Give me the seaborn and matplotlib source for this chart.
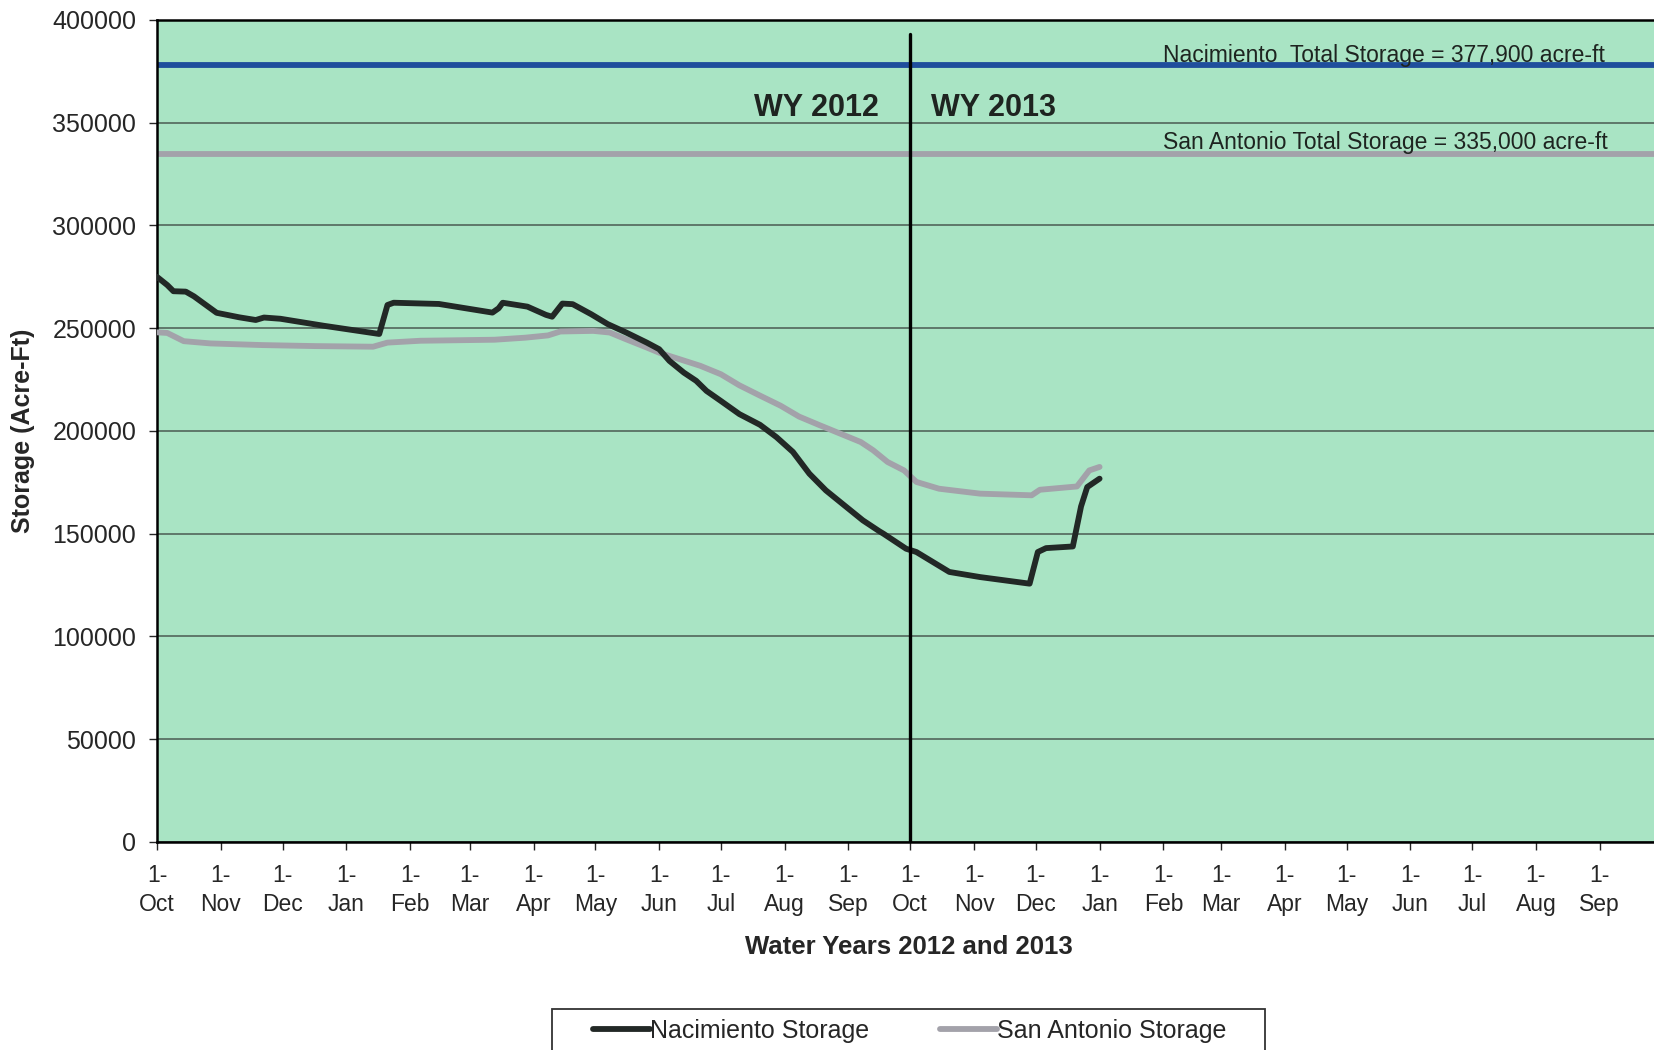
import pandas as pd
import seaborn as sns
import matplotlib.pyplot as plt
import matplotlib.dates as mdates
from matplotlib.patches import Rectangle

# Reservoir storage (acre-ft)
nac_dates = ["2011-10-01", "2011-10-06", "2011-10-09", "2011-10-15", "2011-10-19", "2011-10-30",
             "2011-11-10", "2011-11-18", "2011-11-22", "2011-11-30", "2011-12-21", "2012-01-17",
             "2012-01-21", "2012-01-24", "2012-02-15", "2012-03-12", "2012-03-15", "2012-03-17",
             "2012-03-29", "2012-04-07", "2012-04-10", "2012-04-15", "2012-04-20", "2012-04-29",
             "2012-05-07", "2012-05-16", "2012-05-26", "2012-06-01", "2012-06-06", "2012-06-13",
             "2012-06-19", "2012-06-24", "2012-07-01", "2012-07-10", "2012-07-20", "2012-07-28",
             "2012-08-05", "2012-08-13", "2012-08-21", "2012-08-29", "2012-09-08", "2012-09-16",
             "2012-09-18", "2012-09-29", "2012-10-04", "2012-10-20", "2012-11-04", "2012-11-28",
             "2012-12-02", "2012-12-06", "2012-12-19", "2012-12-23", "2012-12-26", "2013-01-01"]
nac_storage = [275000, 271000, 268000, 267800, 265500, 257500,
               255300, 254000, 255200, 254600, 251200, 247200,
               261300, 262400, 261800, 257600, 259700, 262400,
               260500, 256500, 255600, 262000, 261700, 256800,
               252000, 247900, 243000, 239800, 234100, 228400,
               224400, 219500, 214600, 208200, 203000, 197000,
               189800, 179200, 171100, 164600, 156500, 151200,
               150000, 142700, 141100, 131400, 128900, 125700,
               141100, 143000, 143800, 163300, 172700, 176800]

sa_dates = ["2011-10-01", "2011-10-06", "2011-10-14", "2011-10-27", "2011-11-21", "2011-12-17",
            "2012-01-14", "2012-01-21", "2012-02-06", "2012-03-13", "2012-03-28", "2012-04-08",
            "2012-04-14", "2012-04-30", "2012-05-08", "2012-05-16", "2012-05-26", "2012-06-01",
            "2012-06-11", "2012-06-21", "2012-07-01", "2012-07-10", "2012-07-20", "2012-07-30",
            "2012-08-08", "2012-08-18", "2012-08-28", "2012-09-07", "2012-09-13", "2012-09-20",
            "2012-09-28", "2012-10-04", "2012-10-15", "2012-11-04", "2012-11-29", "2012-12-03",
            "2012-12-21", "2012-12-27", "2013-01-01"]
sa_storage = [248000, 247700, 243700, 242600, 241800, 241300,
              241000, 243000, 243900, 244400, 245400, 246500,
              248400, 248700, 247900, 244600, 240600, 238100,
              234900, 231700, 227600, 222200, 217200, 212300,
              207000, 202800, 198700, 194600, 190600, 184900,
              180800, 175200, 171900, 169500, 168700, 171400,
              173000, 180800, 182500]

nac_total = 377900
sa_total = 335000

nac = pd.DataFrame({"date": pd.to_datetime(nac_dates), "storage": nac_storage})
sa = pd.DataFrame({"date": pd.to_datetime(sa_dates), "storage": sa_storage})

sns.set_style("white")
plt.rcParams["font.family"] = ["Liberation Sans", "DejaVu Sans"]

fig = plt.figure(figsize=(16.54, 10.5), dpi=100)
ax = fig.add_axes([0.0949, 0.1981, 0.9096, 0.7829])
ax.set_facecolor("#a9e4c4")

ax.axhline(nac_total, color="#1f4e9c", lw=4.2, zorder=2)
ax.axhline(sa_total, color="#a3a2aa", lw=4.2, zorder=2)

sns.lineplot(data=nac, x="date", y="storage", ax=ax, color="#222826", lw=4.2,
             label="Nacimiento Storage", zorder=4)
sns.lineplot(data=sa, x="date", y="storage", ax=ax, color="#a3a2aa", lw=4.2,
             label="San Antonio Storage", zorder=3)

ax.axvline(pd.Timestamp("2012-10-01"), ymin=0, ymax=0.983, color="black", lw=2.4, zorder=5)

ax.set_xlim(pd.Timestamp("2011-10-01"), pd.Timestamp("2013-10-01"))
ax.set_ylim(0, 400000)
ax.set_yticks(range(0, 400001, 50000))
ax.yaxis.grid(True, color="#4a5a52", lw=1.1)
ax.set_axisbelow(True)

ax.set_xticks(pd.date_range("2011-10-01", "2013-09-01", freq="MS"))
ax.xaxis.set_major_formatter(mdates.DateFormatter("1-\n%b"))
ax.tick_params(axis="x", length=6, width=1, pad=10, labelsize=16.5, direction="out", bottom=True)
ax.tick_params(axis="y", length=6, width=1, pad=9, labelsize=18, direction="out", left=True)
for lab in ax.get_xticklabels():
    lab.set_linespacing(1.3)

for side in ["left", "top", "bottom"]:
    ax.spines[side].set_color("black")
    ax.spines[side].set_linewidth(1.8)
ax.spines["right"].set_visible(False)

ax.set_xlabel("Water Years 2012 and 2013", fontsize=18.5, fontweight="bold", labelpad=14)
ax.set_ylabel("Storage (Acre-Ft)", fontsize=18, fontweight="bold", labelpad=12)

ax.text(pd.Timestamp("2012-09-16"), 357000, "WY 2012", ha="right", va="center",
        fontsize=22, fontweight="bold", color="#1e2420")
ax.text(pd.Timestamp("2012-10-11"), 357000, "WY 2013", ha="left", va="center",
        fontsize=22, fontweight="bold", color="#1e2420")
ax.text(pd.Timestamp("2013-02-01"), 379400, "Nacimiento  Total Storage = 377,900 acre-ft",
        ha="left", va="baseline", fontsize=16.5, color="#1e2420")
ax.text(pd.Timestamp("2013-02-01"), 337300, "San Antonio Total Storage = 335,000 acre-ft",
        ha="left", va="baseline", fontsize=16.5, color="#1e2420")

handles, labels = ax.get_legend_handles_labels()
ax.get_legend().remove()
fig.legend(handles, labels, loc="center", bbox_to_anchor=(0.550, 0.0181),
           ncol=2, frameon=False, handlelength=2.3, handletextpad=0.0, columnspacing=2.8,
           borderaxespad=0, borderpad=0, prop={"size": 18})
# legend frame, cut by the bottom edge as in the original
fig.patches.append(Rectangle((552 / 1654, -0.05), 713 / 1654, 0.089, transform=fig.transFigure,
                             fill=False, edgecolor="#333333", lw=1.3))

fig.savefig("out.png", dpi=100)
